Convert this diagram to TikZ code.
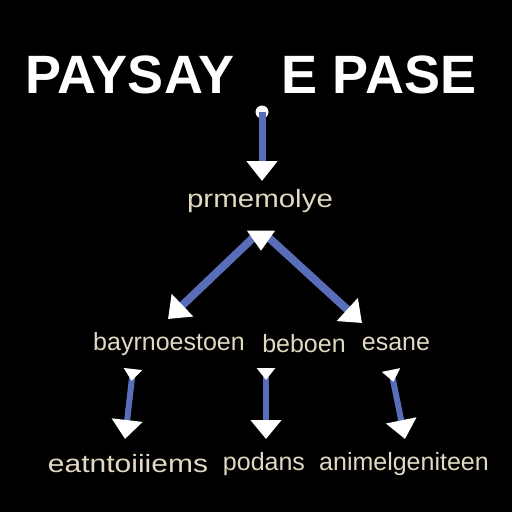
\documentclass[tikz,border=0pt]{standalone}
\usepackage{fontspec}
\setmainfont{Liberation Sans}
\usetikzlibrary{arrows.meta,shapes.geometric}
\definecolor{beige}{HTML}{E2D8C2}
\definecolor{lineblue}{HTML}{5A6DB8}
\begin{document}
\begin{tikzpicture}[x=1pt,y=-1pt,
  title/.style={text=white,font=\bfseries\fontsize{54}{60}\selectfont,inner sep=0pt},
  lbl/.style={text=beige,font=\fontsize{25}{28}\selectfont,inner sep=0pt},
  conn/.style={draw=lineblue,line width=7pt},
  head/.style={-{Triangle[width=30pt,length=20pt,white]}},
  tail/.style={{Triangle[reversed,width=18pt,length=12pt,white]}-{Triangle[width=30pt,length=19pt,white]}}]
\fill[black] (0,0) rectangle (512,512);
\useasboundingbox (0,0) rectangle (512,512);
\node[title] (t1) at (130,75) {PAYSAY};
\node[title] (t2) at (379,75) {E PASE};
\fill[white] (262,112) circle (6.5);
\coordinate (dot) at (262,112);
\node[lbl] (p) at (260,201) {\scalebox{1.18}[1]{prmemolye}};
\coordinate (ptop) at (262,181);
\draw[conn,head] (dot) -- (ptop);
\coordinate (apexc) at (261,236);
\coordinate (la) at (168,319);
\coordinate (ra) at (362,323);
\draw[conn,line width=8pt,head] ([xshift=-6pt]apexc) -- (la);
\draw[conn,line width=8pt,head] ([xshift=6pt]apexc) -- (ra);
\node[isosceles triangle,shape border rotate=-90,isosceles triangle apex angle=70,fill=white,inner sep=0pt,minimum width=28pt,minimum height=20pt] (apex) at (261,238) {};
\node[lbl] (m1) at (169,344) {bayrnoestoen};
\node[lbl] (m2) at (304,344) {beboen};
\node[lbl] (m3) at (396,344) {esane};
\coordinate (a1) at (133,369);
\coordinate (b1) at (125,439);
\coordinate (a2) at (266,368);
\coordinate (b2) at (266,439);
\coordinate (a3) at (391,370);
\coordinate (b3) at (405,439);
\draw[conn,line width=6pt,tail] (a1) -- (b1);
\draw[conn,line width=6pt,tail] (a2) -- (b2);
\draw[conn,line width=6pt,tail] (a3) -- (b3);
\node[lbl] (l1) at (128,464) {\scalebox{1.2}[1]{eatntoiiiems}};
\node[lbl] (l2) at (264,464) {podans};
\node[lbl] (l3) at (404,464) {animelgeniteen};
\end{tikzpicture}
\end{document}
